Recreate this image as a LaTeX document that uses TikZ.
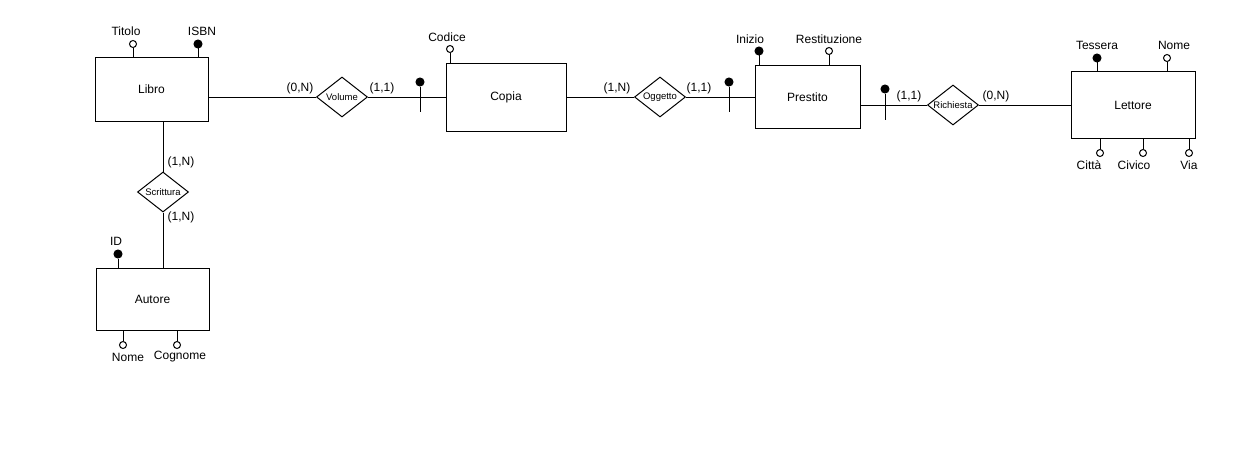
\documentclass[tikz,border=0pt]{standalone}
\usepackage{fontspec}
\setmainfont{Liberation Sans}
\usetikzlibrary{shapes.geometric}
\begin{document}
\begin{tikzpicture}[x=1pt,y=-1pt,line width=1pt,
  entity/.style={draw,rectangle,inner sep=0pt,font=\fontsize{12}{13}\selectfont},
  rel/.style={draw,diamond,shape aspect=1.3,inner sep=0pt,minimum width=51pt,minimum height=40pt,fill=white,font=\fontsize{9.5}{10}\selectfont},
  attr/.style={draw,circle,inner sep=0pt,minimum size=7pt,fill=white},
  keyattr/.style={draw,circle,inner sep=0pt,minimum size=8pt,fill=black},
  lbl/.style={inner sep=0pt,font=\fontsize{12}{13}\selectfont},
  card/.style={inner sep=0pt,font=\fontsize{12}{13}\selectfont}]
\useasboundingbox[fill=white] (0,0) rectangle (1250,452);

% entities
\node[entity,minimum width=113pt,minimum height=63pt] (libro) at (151.5,89.5) {Libro};
\node[entity,minimum width=120pt,minimum height=67pt] (copia) at (506,97.5) {Copia};
\node[entity,minimum width=105pt,minimum height=62pt] (prestito) at (807.5,97) {Prestito};
\node[entity,minimum width=124pt,minimum height=66pt] (lettore) at (1133,105) {Lettore};
\node[entity,minimum width=113pt,minimum height=62pt] (autore) at (152.5,299) {Autore};

% relationships
\node[rel] (volume) at (342,97) {Volume};
\node[rel] (oggetto) at (660,97) {Oggetto};
\node[rel] (richiesta) at (953,105) {Richiesta};
\node[rel] (scrittura) at (163,192) {Scrittura};

% relationship connectors
\draw (volume.west) -- (volume.west -| libro.east);
\draw (volume.east) -- (volume.east -| copia.west);
\draw (oggetto.west) -- (oggetto.west -| copia.east);
\draw (oggetto.east) -- (oggetto.east -| prestito.west);
\draw (richiesta.west) -- (richiesta.west -| prestito.east);
\draw (richiesta.east) -- (richiesta.east -| lettore.west);
\draw (scrittura.north) -- (scrittura.north |- libro.south);
\draw (scrittura.south) -- (scrittura.south |- autore.north);

% cardinalities
\node[card] (c1) at (300,88) {(0,N)};
\node[card] (c2) at (382,88) {(1,1)};
\node[card] (c3) at (617,88) {(1,N)};
\node[card] (c4) at (699,88) {(1,1)};
\node[card] (c5) at (909,96) {(1,1)};
\node[card] (c6) at (996,96) {(0,N)};
\node[card] (c7) at (181,162) {(1,N)};
\node[card] (c8) at (181,217) {(1,N)};

% external identifiers on the links
\node[keyattr] (ext1) at (420,82) {};
\coordinate (ext1e) at (420,112);
\draw (ext1) -- (ext1e);
\node[keyattr] (ext2) at (729,82) {};
\coordinate (ext2e) at (729,112);
\draw (ext2) -- (ext2e);
\node[keyattr] (ext3) at (885,89) {};
\coordinate (ext3e) at (885,120);
\draw (ext3) -- (ext3e);

% attributes of Libro
\node[attr] (titolo) at (133,44) {};
\draw (titolo) -- (titolo |- libro.north);
\node[lbl] (titoloL) at (126,31) {Titolo};
\node[keyattr] (isbn) at (198,44) {};
\draw (isbn) -- (isbn |- libro.north);
\node[lbl] (isbnL) at (202,31) {ISBN};

% attributes of Copia
\node[attr] (codice) at (450,49) {};
\draw (codice) -- (codice |- copia.north);
\node[lbl] (codiceL) at (447,37) {Codice};

% attributes of Prestito
\node[keyattr] (inizio) at (759,51) {};
\draw (inizio) -- (inizio |- prestito.north);
\node[lbl] (inizioL) at (750,39) {Inizio};
\node[attr] (restituzione) at (829,51) {};
\draw (restituzione) -- (restituzione |- prestito.north);
\node[lbl] (restituzioneL) at (829,39) {Restituzione};

% attributes of Lettore
\node[keyattr] (tessera) at (1097,58) {};
\draw (tessera) -- (tessera |- lettore.north);
\node[lbl] (tesseraL) at (1097,45) {Tessera};
\node[attr] (nomeL1) at (1167,58) {};
\draw (nomeL1) -- (nomeL1 |- lettore.north);
\node[lbl] (nomeL1L) at (1174,45) {Nome};
\node[attr] (citta) at (1100,153) {};
\draw (citta) -- (citta |- lettore.south);
\node[lbl] (cittaL) at (1089,165) {Città};
\node[attr] (civico) at (1143,153) {};
\draw (civico) -- (civico |- lettore.south);
\node[lbl] (civicoL) at (1134,165) {Civico};
\node[attr] (via) at (1189,153) {};
\draw (via) -- (via |- lettore.south);
\node[lbl] (viaL) at (1189,165) {Via};

% attributes of Autore
\node[keyattr] (idA) at (118,254) {};
\draw (idA) -- (idA |- autore.north);
\node[lbl] (idAL) at (116,241) {ID};
\node[attr] (nomeA) at (123,345) {};
\draw (nomeA) -- (nomeA |- autore.south);
\node[lbl] (nomeAL) at (128,357) {Nome};
\node[attr] (cognome) at (177,345) {};
\draw (cognome) -- (cognome |- autore.south);
\node[lbl] (cognomeL) at (180,357) {Cognome};
\end{tikzpicture}
\end{document}
